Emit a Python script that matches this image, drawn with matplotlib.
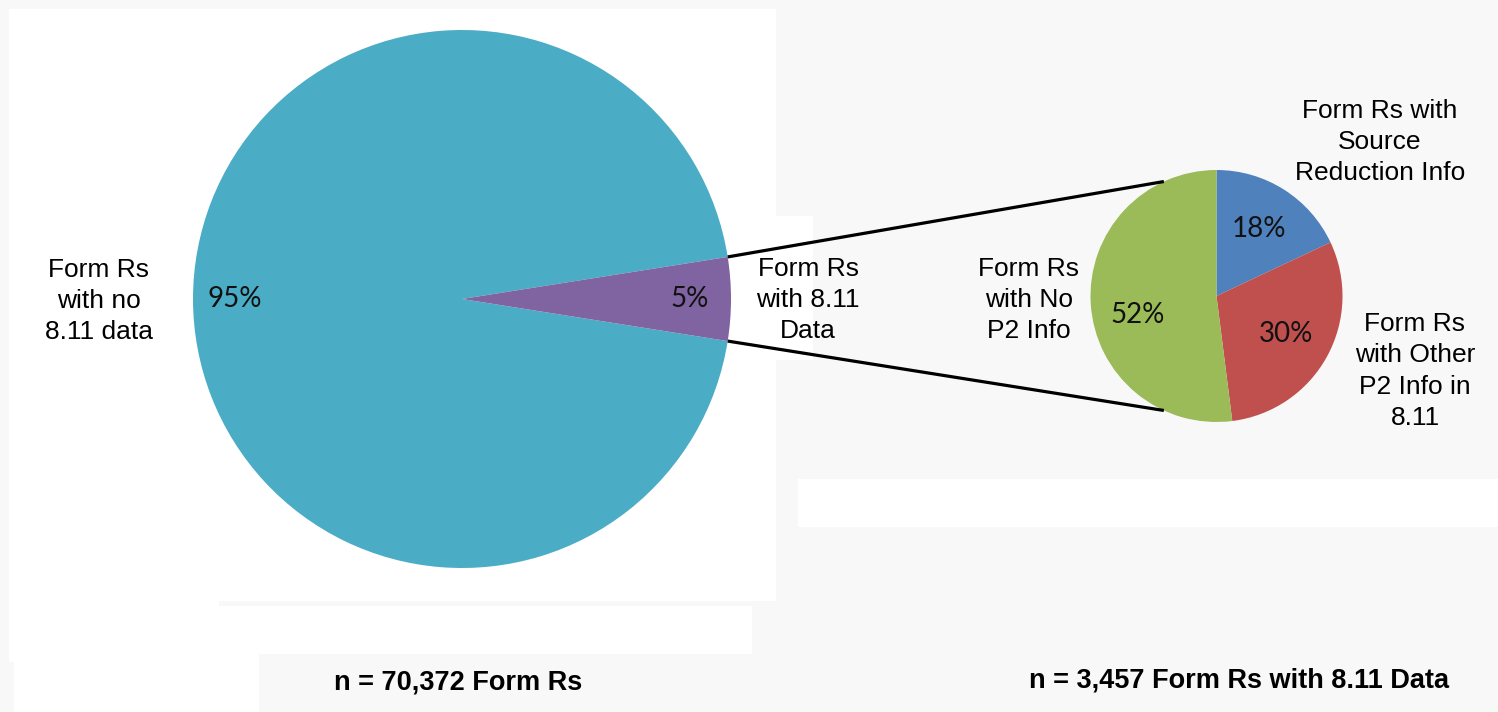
import numpy as np
import matplotlib
matplotlib.use("Agg")
import matplotlib.pyplot as plt
from matplotlib.patches import Rectangle

# =====================================================================
# DONNÉES
# =====================================================================
main_labels = ["Form Rs\nwith no\n8.11 data", "Form Rs\nwith 8.11\nData"]
main_values = [95, 5]
main_colors = ["#4BACC6", "#8064A2"]

sub_labels = ["Form Rs with\nSource\nReduction Info",
              "Form Rs\nwith Other\nP2 Info in\n8.11",
              "Form Rs\nwith No\nP2 Info"]
sub_values = [18, 30, 52]
sub_colors = ["#4F81BD", "#C0504D", "#9BBB59"]

main_n = "n = 70,372 Form Rs"
sub_n = "n = 3,457 Form Rs with 8.11 Data"

# =====================================================================
# MISE EN PAGE (coordonnées en pixels, y vers le haut)
# =====================================================================
W, H = 1498, 712
BG = "#f8f8f8"

def iy(y):
    # y image (vers le bas) -> y données (vers le haut)
    return H - y

fig = plt.figure(figsize=(W / 100, H / 100), dpi=100, facecolor=BG)
ax = fig.add_axes([0, 0, 1, 1])
ax.set_facecolor(BG)

# fonds blancs de la capture
for x0, y0, x1, y1 in [(9, 9, 776, 601), (9, 601, 219, 606), (9, 606, 752, 654),
                       (9, 654, 14, 662), (14, 654, 259, 712),
                       (776, 216, 813, 360), (798, 479, 1498, 527)]:
    ax.add_patch(Rectangle((x0, iy(y1)), x1 - x0, y1 - y0,
                           facecolor="white", edgecolor="none", zorder=0))

pct_font = dict(family=["Lato", "DejaVu Sans"], fontsize=20, color="#111111")

# --- camembert principal ---
c_main = (462, iy(299))
r_main = 269
half_angle = main_values[1] / sum(main_values) * 180
wedges, _, autotexts = ax.pie(main_values, colors=main_colors, center=c_main,
                              radius=r_main, startangle=half_angle,
                              autopct="%d%%", pctdistance=0.845,
                              wedgeprops=dict(linewidth=0),
                              textprops=pct_font)

# --- camembert secondaire ---
c_sub = (1216.5, iy(296))
r_sub = 126
wedges2, _, autotexts2 = ax.pie(sub_values, colors=sub_colors, center=c_sub,
                                radius=r_sub, startangle=90, counterclock=False,
                                autopct="%d%%", pctdistance=0.63,
                                wedgeprops=dict(linewidth=0),
                                textprops=pct_font)
# petit ajustement du 52% (placement type Excel)
x52, y52 = autotexts2[2].get_position()
autotexts2[2].set_position((x52, y52 - 14))

# --- lignes de liaison ---
a_sub = np.deg2rad(114.7)
for s in (1, -1):
    a = np.deg2rad(s * half_angle)
    p0 = (c_main[0] + r_main * np.cos(a), c_main[1] + r_main * np.sin(a))
    p1 = (c_sub[0] + r_sub * np.cos(a_sub), c_sub[1] + s * r_sub * np.sin(a_sub))
    ax.plot([p0[0], p1[0]], [p0[1], p1[1]], color="black", linewidth=2.3,
            solid_capstyle="butt", zorder=3)

# --- étiquettes ---
lab = dict(family="Liberation Sans", fontsize=19, ha="center", va="center",
           linespacing=1.38, color="black")
ax.text(99, iy(301), main_labels[0], **lab)
ax.text(808, iy(300), main_labels[1], **lab)
ax.text(1380, iy(142), sub_labels[0], **lab)
ax.text(1415, iy(371), sub_labels[1], **lab)
ax.text(1029, iy(300), sub_labels[2], **lab)

bold = dict(family="Liberation Sans", fontsize=19.5, fontweight="bold",
            ha="center", va="center", color="black")
ax.text(458, iy(683), main_n, **bold)
ax.text(1239, iy(680), sub_n, **bold)

ax.set_xlim(0, W)
ax.set_ylim(0, H)
ax.set_aspect("equal")
ax.axis("off")

fig.savefig("out.png", dpi=100, facecolor=BG)
